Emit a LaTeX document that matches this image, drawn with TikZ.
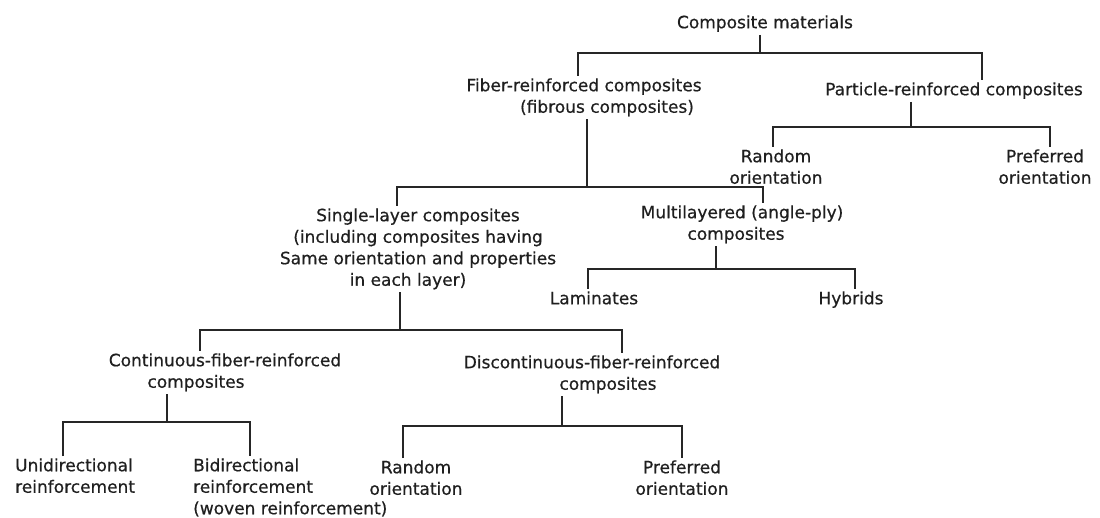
\documentclass[tikz,border=0pt]{standalone}
\usepackage{fontspec}
\setmainfont{DejaVu Sans}[FakeBold=0.5]
\newcommand{\lblfont}{\fontsize{17}{21.5}\selectfont}
\begin{document}
\begin{tikzpicture}[x=1pt,y=-1pt,
  lbl/.style={inner sep=0pt, align=center, anchor=north, font=\lblfont, text=black!88},
  lbll/.style={inner sep=0pt, align=left, anchor=north west, font=\lblfont, text=black!88},
  conn/.style={line width=1.5pt, draw=black!85}]
\useasboundingbox[fill=white] (0,0) rectangle (1100,518);

% nodes
\node[lbl] (cm) at (765,13) {\strut Composite materials};
\node[lbl] (fib) at (584,76) {\strut Fiber-reinforced composites\\\hspace*{46pt}\strut (fibrous composites)};
\node[lbl] (part) at (954,80) {\strut Particle-reinforced composites};
\node[lbl] (rand1) at (776,147) {\strut Random\\\strut orientation};
\node[lbl] (pref1) at (1045,147) {\strut Preferred\\\strut orientation};
\node[lbl] (single) at (418,206) {\strut Single-layer composites\\\strut (including composites having\\\strut Same orientation and properties\\\strut in each layer)\hspace*{20pt}};
\node[lbl] (multi) at (742,203) {\strut Multilayered (angle-ply)\\\strut composites\hspace*{12pt}};
\node[lbl] (lam) at (594,289) {\strut Laminates};
\node[lbl] (hyb) at (851,289) {\strut Hybrids};
\node[lbl] (cont) at (225,351) {\strut Continuous-fiber-reinforced\\\strut composites\hspace*{58pt}};
\node[lbl] (disc) at (592,353) {\strut Discontinuous-fiber-reinforced\\\hspace*{32pt}\strut composites};
\node[lbll] (uni) at (15,456) {\strut Unidirectional\\\strut reinforcement};
\node[lbll] (bi) at (193,456) {\strut Bidirectional\\\strut reinforcement\\\strut (woven reinforcement)};
\node[lbl] (rand2) at (416,458) {\strut Random\\\strut orientation};
\node[lbl] (pref2) at (682,458) {\strut Preferred\\\strut orientation};

% bar coordinates
\coordinate (t1) at (760,53);  \coordinate (l1) at (578,53);  \coordinate (r1) at (982,53);
\coordinate (t2) at (911,127); \coordinate (l2) at (773,127); \coordinate (r2) at (1050,127);
\coordinate (t3) at (587,187); \coordinate (l3) at (397,187); \coordinate (r3) at (763,187);
\coordinate (t4) at (716,269); \coordinate (l4) at (588,269); \coordinate (r4) at (855,269);
\coordinate (t5) at (400,330); \coordinate (l5) at (200,330); \coordinate (r5) at (622,330);
\coordinate (t6) at (167,422); \coordinate (l6) at (63,422);  \coordinate (r6) at (250,422);
\coordinate (t7) at (562,426); \coordinate (l7) at (403,426); \coordinate (r7) at (682,426);

% connectors
\draw[conn] (cm.south -| t1) -- (t1);
\draw[conn] (fib.north -| l1) -- (l1) -- (r1) -- (part.north -| r1);

\draw[conn] (part.south -| t2) -- (t2);
\draw[conn] (rand1.north -| l2) -- (l2) -- (r2) -- (pref1.north -| r2);

\draw[conn] (fib.south -| t3) -- (t3);
\draw[conn] (single.north -| l3) -- (l3) -- (r3) -- (multi.north -| r3);

\draw[conn] (multi.south -| t4) -- (t4);
\draw[conn] (lam.north -| l4) -- (l4) -- (r4) -- (hyb.north -| r4);

\draw[conn] (single.south -| t5) -- (t5);
\draw[conn] (cont.north -| l5) -- (l5) -- (r5) -- (disc.north -| r5);

\draw[conn] (cont.south -| t6) -- (t6);
\draw[conn] (uni.north -| l6) -- (l6) -- (r6) -- (bi.north -| r6);

\draw[conn] (disc.south -| t7) -- (t7);
\draw[conn] (rand2.north -| l7) -- (l7) -- (r7) -- (pref2.north -| r7);
\end{tikzpicture}
\end{document}
